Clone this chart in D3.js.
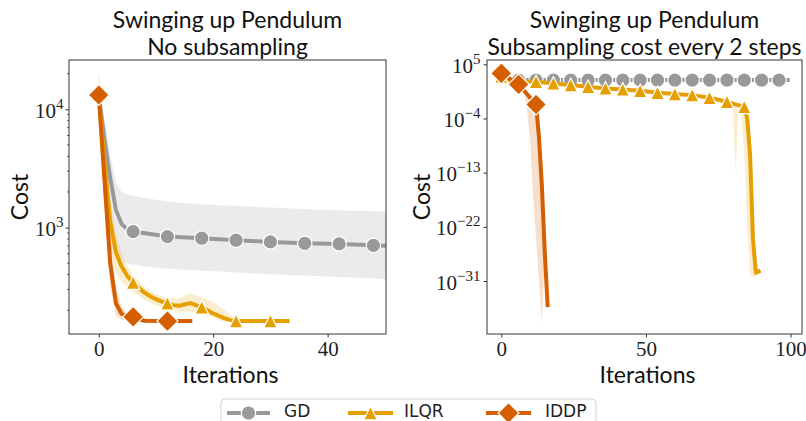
<!DOCTYPE html>
<html><head><meta charset="utf-8">
<script src="https://cdn.jsdelivr.net/npm/d3@7"></script>
<style>body{margin:0;background:#fff} svg{display:block}</style>
</head><body>
<svg id="chart" width="806" height="421"></svg>
<script>
// ---------- DATA ----------
// Left panel: No subsampling
const gdIterA   = [0,1,2,3,4,5,6,12,18,24,30,36,42,48,54];
const gdCostA   = [13200,5620,2630,1410,1070,966,925,839,813,782,757,736,728,708,695];
const gdBandIterA = [0,1,2,3,4,5,6,8,10,14,20,30,40,50,54];
const gdLowA    = [11220,3550,1120,661,537,501,484,468,457,442,427,403,385,367,360];
const gdHighA   = [15850,8320,4170,2400,2000,1905,1860,1780,1720,1620,1550,1480,1410,1365,1350];

const ilqrIterA = [0,1,2,3,4,5,6,7,8,9,10,11,12,13,14,15,16,17,18,19,20,21,22,23,24,30,33];
const ilqrCostA = [13200,3550,1120,617,468,389,343,309,282,263,248,237,229,221,218,224,230,221,212,200,188,179,171,165,162,162,162];
const ilqrBandIterA = [0,1,2,3,4,5,6,8,10,12,14,16,18,20,22,24,33];
const ilqrHighA = [19950,5620,1780,891,603,468,398,316,275,254,251,279,257,234,200,168,164];
const ilqrLowA  = [11220,2240,708,417,347,309,285,245,219,202,193,195,186,174,160,158,160];

const iddpIterA = [0,1,2,3,4,5,6,7,8,12,16];
const iddpCostA = [13200,2510,500,229,186,178,176,168,163,162,162];
const iddpBandIterA = [0,1,2,3,4,5,6,8,16];
const iddpHighA = [20900,3980,891,316,214,186,180,164,163];
const iddpLowA  = [11220,1585,316,182,166,164,162,160,161];

// Right panel: Subsampling cost every 2 steps
const gdIterB   = [0,1,6,12,18,24,30,36,42,48,54,60,66,72,78,84,90,96,99];
const gdCostB   = [2000,240,240,240,240,240,240,240,240,240,240,240,240,240,240,240,240,240,240];

const ilqrIterB = [0,1,2,3,6,12,18,24,30,36,42,48,54,60,66,72,78,84,85,86,87,88,89];
const ilqrCostB = [1000,400,250,200,160,126,67.6,35.5,18.6,10,6.76,3.98,1.86,1.12,0.76,0.28,0.0589,0.0085,1e-4,1e-10,1e-24,2.5e-30,4e-30];
const ilqrBandIterB = [0,12,36,60,78,80,81,82,83,84,85,86,87,88,89];
const ilqrHighB = [1122,141,11.2,1.26,0.066,0.0355,0.0251,0.0182,0.0132,0.01,3.2e-4,1e-9,1e-22,5e-30,6.3e-30];
const ilqrLowB  = [891,112,8.9,1.0,0.052,0.0275,1e-13,0.0145,6.3e-4,1e-10,1e-22,1e-30,5e-31,5e-31,2.5e-30];

const iddpIterB = [0,6,12,13,14,15,16];
const iddpCostB = [3160,46.8,0.0214,1e-7,1e-15,1e-26,1e-35];
const iddpBandIterB = [0,6,8,9,10,11,12,13,14,15,16];
const iddpHighB = [3550,52.5,3.98,1.12,0.316,0.089,0.0251,5e-7,3.2e-15,3.2e-26,1.6e-35];
const iddpLowB  = [2820,39.8,1.0,1e-3,1e-8,1e-17,1e-24,1e-31,1e-38,1e-27,6.3e-36];

const methods = ["GD","ILQR","IDDP"];
const xTicksA = [0,20,40];
const xTicksB = [0,50,100];
const yTicksA = [1e3,1e4];
const yTicksB = [1e5,1e-4,1e-13,1e-22,1e-31];
const titlesA = ["Swinging up Pendulum","No subsampling"];
const titlesB = ["Swinging up Pendulum","Subsampling cost every 2 steps"];

// ---------- STYLE ----------
const COL = {GD:"#999999", ILQR:"#E69F00", IDDP:"#D55E00"};
const SANS = "Lato, 'Open Sans', sans-serif";
const SERIF = "'Liberation Serif', 'DejaVu Serif', serif";
const svg = d3.select("#chart");

function drawMarker(g, m, cx, cy){
  if(m==="GD"){
    g.append("circle").attr("cx",cx).attr("cy",cy).attr("r",7.2)
      .attr("fill",COL.GD).attr("stroke","#fff").attr("stroke-width",1.2);
  } else if(m==="ILQR"){
    const s=6.8;
    g.append("path").attr("d",`M${cx},${cy-s}L${cx+s},${cy+s}L${cx-s},${cy+s}Z`)
      .attr("fill",COL.ILQR).attr("stroke","#fff").attr("stroke-width",1.2).attr("stroke-linejoin","miter");
  } else {
    const s=10.5;
    g.append("path").attr("d",`M${cx},${cy-s}L${cx+s},${cy}L${cx},${cy+s}L${cx-s},${cy}Z`)
      .attr("fill",COL.IDDP).attr("stroke","#fff").attr("stroke-width",1.2);
  }
}
function supLabel(sel, d){
  const e = Math.round(Math.log10(d));
  sel.text(null);
  sel.append("tspan").text("10");
  sel.append("tspan").attr("dy",-9).attr("font-size",15).text(String(e).replace("-","\u2212"));
}

function panel(cfg){
  const x = d3.scaleLinear().domain(cfg.xDomain).range([cfg.left,cfg.right]);
  const y = d3.scaleLog().domain(cfg.yDomain).range([cfg.bottom,cfg.top]);
  const g = svg.append("g");
  const cid = "clip"+cfg.id;
  svg.append("defs").append("clipPath").attr("id",cid).append("rect")
    .attr("x",cfg.left).attr("y",cfg.top).attr("width",cfg.right-cfg.left).attr("height",cfg.bottom-cfg.top);
  const plot = g.append("g").attr("clip-path",`url(#${cid})`);

  cfg.series.forEach(s=>{
    if(s.bandIter){
      const bd = s.bandIter.map((it,i)=>({i:it, lo:s.low[i], hi:s.high[i]}));
      plot.append("path").datum(bd)
        .attr("d", d3.area().x(d=>x(d.i)).y0(d=>y(d.lo)).y1(d=>y(d.hi)))
        .attr("fill",COL[s.m]).attr("fill-opacity",0.2).attr("stroke","none");
    }
    const ld = s.iter.map((it,i)=>({i:it, v:s.cost[i]}));
    plot.append("path").datum(ld)
      .attr("d", d3.line().x(d=>x(d.i)).y(d=>y(d.v)))
      .attr("fill","none").attr("stroke",COL[s.m]).attr("stroke-width",4)
      .attr("stroke-linejoin","round").attr("stroke-linecap","square");
    ld.filter(d=>d.i%6===0).forEach(d=>drawMarker(plot,s.m,x(d.i),y(d.v)));
  });

  // minor ticks
  if(cfg.minor){
    const minors = y.ticks().filter(t=>Math.abs(Math.log10(t)-Math.round(Math.log10(t)))>1e-6);
    g.selectAll(null).data(minors).enter().append("line")
      .attr("x1",cfg.left).attr("x2",cfg.left-2).attr("y1",d=>y(d)).attr("y2",d=>y(d))
      .attr("stroke","#333").attr("stroke-width",0.8);
  }
  // axes
  const ax = g.append("g").attr("transform",`translate(0,${cfg.bottom})`)
    .call(d3.axisBottom(x).tickValues(cfg.xTicks).tickSize(3.5).tickFormat(d3.format("d")));
  ax.select(".domain").remove();
  ax.selectAll(".tick line").attr("stroke","#333");
  ax.selectAll(".tick text").attr("y",22).attr("dy",0).attr("font-family",SERIF).attr("font-size",21).attr("fill","#222");

  const ay = g.append("g").attr("transform",`translate(${cfg.left},0)`)
    .call(d3.axisLeft(y).tickValues(cfg.yTicks).tickSize(3.5).tickPadding(cfg.pad));
  ay.select(".domain").remove();
  ay.selectAll(".tick line").attr("stroke","#333");
  ay.selectAll(".tick text").attr("dy",8).attr("font-family",SERIF).attr("font-size",21).attr("fill","#222")
    .each(function(d){ supLabel(d3.select(this), d); });

  // frame
  g.append("rect").attr("x",cfg.left).attr("y",cfg.top).attr("width",cfg.right-cfg.left).attr("height",cfg.bottom-cfg.top)
    .attr("fill","none").attr("stroke","#333").attr("stroke-width",1);

  const cx = (cfg.left+cfg.right)/2;
  const txt = (xx,yy,s)=>g.append("text").attr("x",xx).attr("y",yy).attr("text-anchor","middle")
    .attr("font-family",SANS).attr("font-size",23).attr("fill","#111").text(s);
  txt(cx,28,cfg.titles[0]);
  txt(cx,55,cfg.titles[1]);
  txt(cx+3,383,"Iterations");
  g.append("text").attr("transform",`translate(${cfg.ylabX},197) rotate(-90)`).attr("text-anchor","middle")
    .attr("font-family",SANS).attr("font-size",23).attr("fill","#111").text("Cost");
}

panel({id:"A", left:69, right:386, top:60, bottom:334,
  xDomain:[-5.2,50.2], yDomain:[126,26100], xTicks:xTicksA, yTicks:yTicksA, minor:true, pad:2,
  titles:titlesA, ylabX:28,
  series:[
    {m:"GD", iter:gdIterA, cost:gdCostA, bandIter:gdBandIterA, low:gdLowA, high:gdHighA},
    {m:"ILQR", iter:ilqrIterA, cost:ilqrCostA, bandIter:ilqrBandIterA, low:ilqrLowA, high:ilqrHighA},
    {m:"IDDP", iter:iddpIterA, cost:iddpCostA, bandIter:iddpBandIterA, low:iddpLowA, high:iddpHighA}
  ]});
panel({id:"B", left:487, right:802, top:60, bottom:334,
  xDomain:[-4.95,103.95], yDomain:[1.6e-40,5.2e5], xTicks:xTicksB, yTicks:yTicksB, minor:false, pad:3,
  titles:titlesB, ylabX:430,
  series:[
    {m:"GD", iter:gdIterB, cost:gdCostB},
    {m:"ILQR", iter:ilqrIterB, cost:ilqrCostB, bandIter:ilqrBandIterB, low:ilqrLowB, high:ilqrHighB},
    {m:"IDDP", iter:iddpIterB, cost:iddpCostB, bandIter:iddpBandIterB, low:iddpLowB, high:iddpHighB}
  ]});

// ---------- LEGEND ----------
const lg = svg.append("g");
lg.append("rect").attr("x",221).attr("y",399).attr("width",375).attr("height",34).attr("rx",4)
  .attr("fill","#fff").attr("stroke","#d5d5d5").attr("stroke-width",1);
const legendPos = [{x1:227,x2:270,tx:284},{x1:348,x2:393,tx:404},{x1:486,x2:531,tx:545}];
methods.forEach((m,i)=>{
  const p = legendPos[i], ly = 413;
  lg.append("line").attr("x1",p.x1).attr("x2",p.x2).attr("y1",ly).attr("y2",ly)
    .attr("stroke",COL[m]).attr("stroke-width",4);
  drawMarker(lg,m,(p.x1+p.x2)/2,ly);
  lg.append("text").attr("x",p.tx).attr("y",416.5).attr("font-family","'DejaVu Sans', sans-serif")
    .attr("font-size",17).attr("fill","#222").text(m);
});
</script>
</body></html>
